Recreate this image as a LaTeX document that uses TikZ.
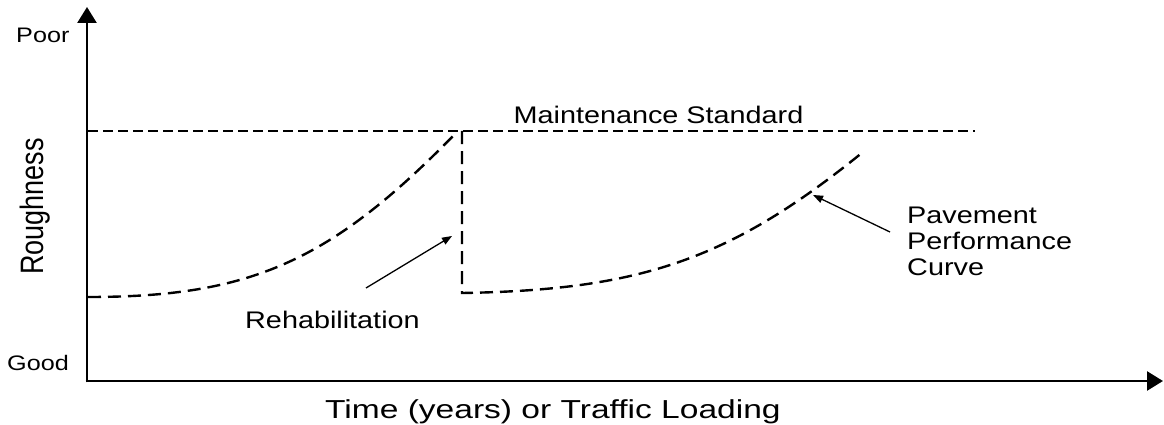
\documentclass[tikz,border=0pt]{standalone}
\usepackage{fontspec}
\usepackage{graphicx}
\setmainfont{Liberation Sans}
\newfontfamily\af{Liberation Sans}
\usetikzlibrary{arrows.meta}
\begin{document}
\begin{tikzpicture}[x={(1pt,0)}, y={(0,-1pt)},
  axis/.style={line width=2.6pt, -{Triangle[length=16pt,width=19pt]}},
  stdline/.style={line width=2.6pt, dash pattern=on 10pt off 5pt},
  curveline/.style={line width=2.4pt, dash pattern=on 13pt off 7pt},
  pointer/.style={line width=1.3pt, -{Triangle[length=10pt,width=7.5pt]}},
  lbl/.style={inner sep=0pt, font=\af\fontsize{24}{26}\selectfont},
  small/.style={inner sep=0pt, font=\af\fontsize{21}{23}\selectfont}]
\useasboundingbox (0,0) rectangle (1164,425);
% axes
\coordinate (origin) at (87,381);
\coordinate (ytop) at (87,7);
\coordinate (xend) at (1163,381);
\coordinate (ybot) at (87,382.3);
\coordinate (xstart) at (85.7,381);
\draw[axis] (ybot) -- (ytop);
\draw[axis] (xstart) -- (xend);
% maintenance standard
\coordinate (msl) at (88,131);
\coordinate (msr) at (975,131);
\draw[stdline] (msl) -- (msr);
% curves
\coordinate (c1s) at (88,297);
\coordinate (c1e) at (455,134);
\draw[curveline] (c1s) .. controls (250,297) and (330,262) .. (c1e);
\coordinate (vtop) at (462,131);
\coordinate (vbot) at (462,293);
\coordinate (c2e) at (863,152);
\draw[curveline] (vtop) -- (vbot) .. controls (640,290) and (730,260) .. (c2e);
% labels
\node[lbl, anchor=base] (ms) at (658.5,123.3) {\scalebox{1.2}[1]{Maintenance Standard}};
\node[lbl, anchor=base west] (rehab) at (245,328) {\scalebox{1.2}[1]{Rehabilitation}};
\node[lbl, anchor=base west] (pav) at (907,223.3) {\scalebox{1.2}[1]{Pavement}};
\node[lbl, anchor=base west] (perf) at (907,249.5) {\scalebox{1.2}[1]{Performance}};
\node[lbl, anchor=base west] (curv) at (907,275.7) {\scalebox{1.2}[1]{Curve}};
\node[inner sep=0pt, font=\af\fontsize{26}{28}\selectfont, anchor=base west] (time) at (325,418.5) {\scalebox{1.29}[1]{Time (years) or Traffic Loading}};
\node[small, anchor=base west] (poor) at (16,42.5) {\scalebox{1.2}[1]{Poor}};
\node[small, anchor=base west] (good) at (7,370.7) {\scalebox{1.2}[1]{Good}};
\node[inner sep=0pt, font=\af\fontsize{27}{29}\selectfont, rotate=90, anchor=base west] (rough) at (43,275) {\scalebox{1}[1.2]{Roughness}};
% pointers
\coordinate (rtail) at (366,288);
\coordinate (rtip) at (452,236);
\draw[pointer] (rtail) -- (rtip);
\coordinate (ptail) at (890,232);
\coordinate (ptip) at (813,195);
\draw[pointer] (ptail) -- (ptip);
\end{tikzpicture}
\end{document}
